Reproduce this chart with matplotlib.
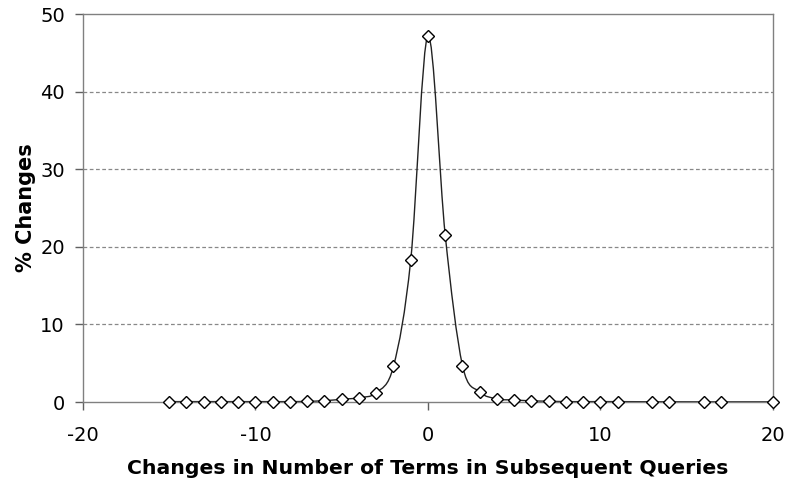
import matplotlib
matplotlib.use('Agg')
import matplotlib.pyplot as plt
from matplotlib.path import Path
from matplotlib.patches import PathPatch
import numpy as np

# changes in number of terms vs % of changes
term_changes = [-15, -14, -13, -12, -11, -10, -9, -8, -7, -6, -5, -4, -3, -2, -1,
                0, 1, 2, 3, 4, 5, 6, 7, 8, 9, 10, 11, 13, 14, 16, 17, 20]
pct_changes = [0.05, 0.05, 0.05, 0.05, 0.05, 0.05, 0.05, 0.05, 0.08, 0.17, 0.35, 0.55, 1.2, 4.6, 18.3,
               47.2, 21.5, 4.7, 1.3, 0.4, 0.26, 0.15, 0.1, 0.05, 0.05, 0.05, 0.05, 0.03, 0.03, 0.02, 0.02, 0.02]
x_ticks = [-20, -10, 0, 10, 20]
y_ticks = [0, 10, 20, 30, 40, 50]


def smooth_path(xs, ys):
    """Excel-like smoothed line: Catmull-Rom segments as cubic Beziers."""
    pts = np.column_stack([xs, ys]).astype(float)
    verts = [pts[0]]
    codes = [Path.MOVETO]
    n = len(pts)
    for i in range(n - 1):
        p0 = pts[i - 1] if i > 0 else pts[i]
        p1 = pts[i]
        p2 = pts[i + 1]
        p3 = pts[i + 2] if i + 2 < n else pts[i + 1]
        c1 = p1 + (p2 - p0) / 6.0
        c2 = p2 - (p3 - p1) / 6.0
        verts += [c1, c2, p2]
        codes += [Path.CURVE4] * 3
    return Path(verts, codes)


fig = plt.figure(figsize=(7.85, 4.8), dpi=100)
ax = fig.add_axes([0.1057, 0.1625, 0.879, 0.8083])

ax.add_patch(PathPatch(smooth_path(term_changes, pct_changes), facecolor='none',
                       edgecolor='#222222', linewidth=1.0, zorder=2))
ax.plot(term_changes, pct_changes, linestyle='none', marker='D', markersize=6.5,
        markerfacecolor='white', markeredgecolor='black', markeredgewidth=1.0,
        clip_on=False, zorder=3)

ax.set_xlim(-20, 20)
ax.set_ylim(0, 50)
ax.set_xticks(x_ticks)
ax.set_yticks(y_ticks)
ax.set_xticklabels([str(t) for t in x_ticks])
ax.set_yticklabels([str(t) for t in y_ticks])

for y in y_ticks[1:-1]:
    ax.axhline(y, color='#888888', linestyle=(0, (3, 2)), linewidth=0.9, zorder=1)

for side in ['left', 'bottom', 'top', 'right']:
    ax.spines[side].set_color('#808080')
    ax.spines[side].set_linewidth(1.0)

ax.tick_params(direction='out', length=6, width=1, color='#606060', labelsize=14)
ax.tick_params(axis='x', pad=11)
ax.tick_params(axis='y', pad=7)

ax.set_xlabel('Changes in Number of Terms in Subsequent Queries',
              fontsize=14.7, fontweight='bold', labelpad=10)
ax.set_ylabel('% Changes', fontsize=15, fontweight='bold', labelpad=3)

fig.savefig('out.png', dpi=100)
